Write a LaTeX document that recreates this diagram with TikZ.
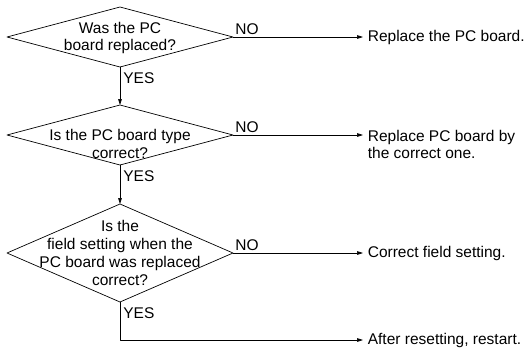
\documentclass[tikz,border=0pt]{standalone}
\usepackage{fontspec}
\setmainfont{Liberation Sans}
\usetikzlibrary{arrows.meta,shapes.geometric}

\tikzset{
  decision/.style={draw, diamond, inner sep=0pt, outer sep=0pt, minimum width=226pt},
  qtext/.style={align=center, inner sep=0pt, font=\fontsize{15.5}{17.5}\selectfont},
  answer/.style={anchor=west, align=left, inner sep=0pt, inner xsep=4.5pt, font=\fontsize{15.5}{17}\selectfont},
  yesno/.style={inner sep=0pt, font=\fontsize{15.5}{17}\selectfont}
}

\begin{document}
\begin{tikzpicture}[line cap=round,line join=round,>={Triangle[length=6pt,width=3.6pt]},x=1pt,y=-1pt,line width=0.7pt]
			\useasboundingbox (0,0) rectangle (531,349);
			\node[decision, minimum height=60pt] (q1) at (120,37) {};
			\node[decision, minimum height=60pt] (q2) at (120,135) {};
			\node[decision, minimum height=98pt] (q3) at (120,253) {};
			\node[qtext] (t1) at (120,38) {Was the PC\\board replaced?};
			\node[qtext] (t2) at (120,144) {Is the PC board type\\correct?};
			\node[qtext, font=\fontsize{15.5}{18}\selectfont] (t3) at (120,253) {Is the\\field setting when the\\PC board was replaced\\correct?};
			\node[answer] (a1) at (363,37) {Replace the PC board.};
			\node[answer] (a2) at (363,144.5) {Replace PC board by\\the correct one.};
			\node[answer] (a3) at (363,253) {Correct field setting.};
			\node[answer] (a4) at (363,340) {After resetting, restart.};
			\draw[->] (q1.south) -- (q2.north);
			\draw[->] (q2.south) -- (q3.north);
			\draw[->] (q3.south) |- (a4.west);
			\draw[->] (q1.east) -- (q1.east -| a1.west);
			\draw[->] (q2.east) -- (q2.east -| a2.west);
			\draw[->] (q3.east) -- (q3.east -| a3.west);
			\node[yesno, anchor=south west] (n1) at ([xshift=2pt,yshift=2.5pt]q1.east) {NO};
			\node[yesno, anchor=south west] (n2) at ([xshift=2pt,yshift=2.5pt]q2.east) {NO};
			\node[yesno, anchor=south west] (n3) at ([xshift=2pt,yshift=2.5pt]q3.east) {NO};
			\node[yesno, anchor=north west] (y1) at ([xshift=3pt,yshift=-5pt]q1.south) {YES};
			\node[yesno, anchor=north west] (y2) at ([xshift=3pt,yshift=-5pt]q2.south) {YES};
			\node[yesno, anchor=north west] (y3) at ([xshift=3pt,yshift=-5pt]q3.south) {YES};
\end{tikzpicture}
\end{document}
